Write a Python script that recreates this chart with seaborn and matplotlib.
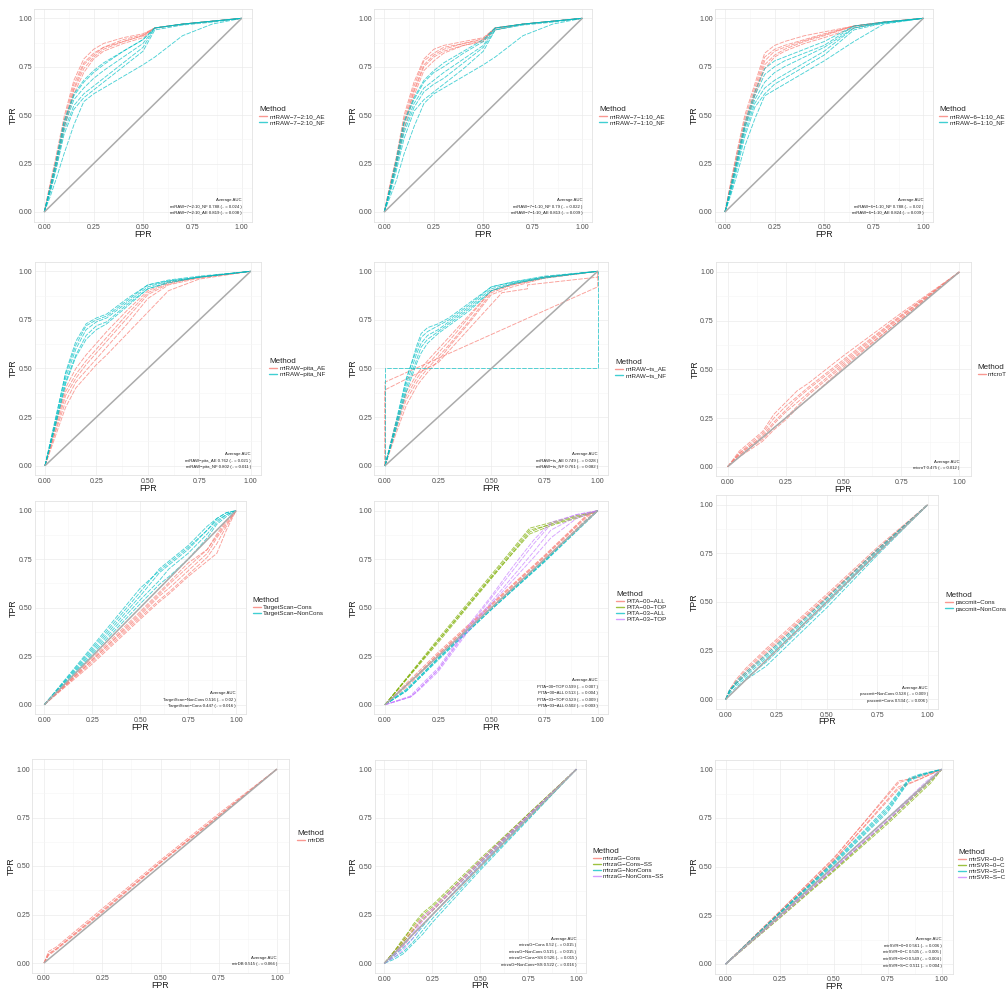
import matplotlib
matplotlib.use("Agg")
import matplotlib.pyplot as plt
from matplotlib.lines import Line2D
import seaborn as sns
import pandas as pd

sns.set_style("white")
plt.rcParams["font.family"] = ["Liberation Sans", "DejaVu Sans"]

# ---------------------------------------------------------------- data ----
DIAG = [0, 1]
TICKS = [0, 0.25, 0.5, 0.75, 1.0]
TICK_LABELS = ["0.00", "0.25", "0.50", "0.75", "1.00"]
MINOR_TICKS = [0.125, 0.375, 0.625, 0.875]

# miRAW-7-2:10
P1_METHODS = ["miRAW−7−2:10_AE", "miRAW−7−2:10_NF"]
P1_FPR = [0, .03, .06, .10, .15, .20, .25, .30, .40, .50, .56, .70, .85, 1]
P1_AE = [
    [0, .14, .27, .47, .66, .77, .82, .85, .88, .91, .95, .97, .985, 1],
    [0, .12, .25, .44, .63, .74, .80, .84, .88, .91, .95, .97, .985, 1],
    [0, .15, .29, .49, .68, .79, .84, .87, .90, .92, .95, .97, .985, 1],
    [0, .13, .26, .45, .64, .76, .81, .85, .89, .915, .95, .97, .985, 1],
    [0, .11, .24, .43, .61, .72, .79, .83, .87, .90, .95, .97, .985, 1],
]
P1_NF = [
    [0, .13, .26, .46, .60, .67, .72, .76, .83, .89, .95, .97, .985, 1],
    [0, .12, .25, .44, .58, .64, .69, .73, .80, .87, .95, .97, .985, 1],
    [0, .13, .27, .47, .61, .68, .73, .77, .83, .89, .95, .97, .985, 1],
    [0, .11, .23, .42, .55, .61, .65, .69, .77, .85, .95, .97, .985, 1],
    [0, .10, .22, .40, .53, .59, .63, .67, .75, .83, .94, .965, .98, 1],
    [0, .08, .17, .30, .45, .57, .61, .64, .70, .76, .80, .91, .97, 1],
]
P1_AUC = ["miRAW−7−2:10_NF 0.788 (.. = 0.024 )",
          "miRAW−7−2:10_AE 0.819 (.. = 0.008 )"]

# miRAW-7-1:10
P2_METHODS = ["miRAW−7−1:10_AE", "miRAW−7−1:10_NF"]
P2_FPR = [0, .03, .06, .10, .15, .20, .25, .30, .40, .50, .56, .70, .85, 1]
P2_AE = [
    [0, .14, .27, .48, .65, .78, .82, .85, .87, .89, .95, .97, .985, 1],
    [0, .12, .25, .45, .62, .75, .80, .83, .86, .885, .95, .97, .985, 1],
    [0, .15, .28, .50, .67, .79, .84, .86, .88, .90, .95, .97, .985, 1],
    [0, .13, .26, .46, .63, .76, .81, .84, .87, .895, .95, .97, .985, 1],
    [0, .11, .24, .43, .60, .73, .78, .82, .86, .88, .94, .97, .985, 1],
]
P2_NF = [
    [0, .13, .26, .46, .58, .67, .72, .75, .82, .88, .95, .97, .985, 1],
    [0, .12, .24, .43, .56, .64, .68, .72, .79, .86, .95, .97, .985, 1],
    [0, .13, .27, .47, .59, .68, .73, .77, .83, .89, .95, .97, .985, 1],
    [0, .11, .23, .41, .54, .62, .66, .69, .77, .85, .94, .97, .985, 1],
    [0, .10, .21, .38, .52, .58, .62, .66, .74, .83, .94, .965, .98, 1],
    [0, .08, .16, .30, .44, .56, .61, .64, .70, .76, .80, .91, .97, 1],
]
P2_AUC = ["miRAW−7−1:10_NF 0.79 (.. = 0.022 )",
          "miRAW−7−1:10_AE 0.813 (.. = 0.009 )"]

# miRAW-6-1:10
P3_METHODS = ["miRAW−6−1:10_AE", "miRAW−6−1:10_NF"]
P3_FPR = [0, .03, .06, .10, .15, .20, .25, .30, .40, .50, .65, .80, 1]
P3_AE = [
    [0, .15, .30, .48, .64, .80, .84, .86, .89, .92, .96, .98, 1],
    [0, .13, .27, .45, .61, .76, .81, .84, .88, .91, .96, .98, 1],
    [0, .16, .31, .50, .66, .82, .86, .88, .91, .93, .96, .98, 1],
    [0, .14, .28, .46, .62, .78, .83, .85, .885, .915, .96, .98, 1],
    [0, .12, .26, .44, .60, .74, .80, .83, .87, .90, .95, .98, 1],
]
P3_NF = [
    [0, .14, .28, .46, .62, .74, .78, .80, .84, .88, .96, .98, 1],
    [0, .13, .26, .44, .60, .71, .75, .78, .82, .86, .96, .98, 1],
    [0, .12, .25, .43, .58, .67, .72, .75, .80, .85, .95, .98, 1],
    [0, .11, .24, .41, .56, .64, .68, .71, .77, .83, .95, .975, 1],
    [0, .10, .22, .39, .54, .61, .66, .69, .75, .81, .94, .975, 1],
    [0, .09, .19, .34, .48, .60, .63, .66, .72, .78, .88, .97, 1],
]
P3_AUC = ["miRAW−6−1:10_NF 0.788 (.. = 0.02 )",
          "miRAW−6−1:10_AE 0.824 (.. = 0.009 )"]

# miRAW-pita
P4_METHODS = ["miRAW−pita_AE", "miRAW−pita_NF"]
P4_FPR = [0, .05, .10, .15, .20, .25, .30, .40, .50, .60, .75, 1]
P4_AE = [
    [0, .20, .38, .47, .54, .60, .66, .78, .89, .94, .97, 1],
    [0, .18, .36, .45, .52, .58, .64, .76, .88, .935, .97, 1],
    [0, .21, .40, .50, .57, .63, .69, .80, .90, .945, .97, 1],
    [0, .17, .33, .43, .49, .55, .61, .73, .86, .93, .965, 1],
    [0, .15, .30, .40, .46, .52, .57, .68, .79, .90, .96, 1],
]
P4_NF = [
    [0, .24, .47, .62, .72, .75, .77, .85, .93, .95, .97, 1],
    [0, .22, .45, .60, .70, .74, .76, .84, .92, .95, .97, 1],
    [0, .23, .48, .64, .73, .76, .78, .86, .93, .955, .975, 1],
    [0, .21, .43, .57, .67, .72, .74, .83, .91, .945, .97, 1],
    [0, .20, .42, .56, .65, .70, .73, .82, .91, .94, .97, 1],
]
P4_AUC = ["miRAW−pita_AE 0.762 (.. = 0.021 )",
          "miRAW−pita_NF 0.802 (.. = 0.011 )"]

# miRAW-ts
P5_METHODS = ["miRAW−ts_AE", "miRAW−ts_NF"]
P5_FPR = [0, .05, .10, .15, .17, .20, .25, .30, .40, .50, .60, .75, 1]
P5_AE = [
    [0, .20, .36, .45, .48, .52, .58, .64, .77, .90, .93, .97, 1],
    [0, .18, .34, .43, .46, .50, .56, .62, .75, .89, .93, .965, 1],
    [0, .22, .38, .47, .50, .54, .60, .66, .78, .90, .935, .97, 1],
    [0, .16, .31, .41, .44, .48, .54, .61, .74, .88, .92, .965, 1],
]
P5_AE_ODD_A_FPR = [0, 0, 1, 1]
P5_AE_ODD_A_TPR = [0, .43, .92, 1]
P5_AE_ODD_B_FPR = [0, 0, .25, .55, .67, .67, 1, 1]
P5_AE_ODD_B_TPR = [0, .39, .53, .89, .91, .93, .97, 1]
P5_NF = [
    [0, .22, .45, .60, .66, .69, .72, .75, .83, .92, .945, .97, 1],
    [0, .20, .42, .58, .63, .67, .70, .74, .82, .91, .94, .97, 1],
    [0, .21, .44, .62, .68, .71, .73, .76, .84, .92, .945, .975, 1],
    [0, .19, .40, .55, .61, .65, .69, .73, .81, .90, .935, .97, 1],
    [0, .18, .38, .53, .58, .63, .68, .72, .80, .90, .935, .965, 1],
]
P5_NF_ODD_FPR = [0, 0, 1, 1]
P5_NF_ODD_TPR = [0, .5, .5, 1]
P5_AUC = ["miRAW−ts_AE 0.749 (.. = 0.028 )",
          "miRAW−ts_NF 0.761 (.. = 0.082 )"]

# microT
P6_METHODS = ["microT"]
P6_FPR = [0, .05, .10, .15, .20, .25, .30, .35, .50, .75, 1]
P6_MT = [
    [0, .07, .12, .17, .25, .31, .36, .41, .55, .78, 1],
    [0, .06, .11, .15, .22, .28, .33, .38, .53, .77, 1],
    [0, .08, .13, .18, .27, .33, .39, .43, .57, .79, 1],
    [0, .06, .10, .14, .20, .25, .31, .37, .52, .76, 1],
    [0, .07, .11, .16, .23, .29, .35, .40, .54, .775, 1],
    [0, .05, .09, .13, .19, .24, .30, .35, .51, .76, 1],
]
P6_AUC = ["microT 0.475 (.. = 0.012 )"]

# TargetScan
P7_METHODS = ["TargetScan−Cons", "TargetScan−NonCons"]
P7_FPR = [0, .25, .50, .60, .65, .75, .85, .90, .95, 1]
P7_C = [
    [0, .22, .45, .54, .58, .67, .76, .83, .92, 1],
    [0, .23, .46, .56, .60, .69, .78, .86, .93, 1],
    [0, .24, .48, .58, .63, .73, .80, .88, .95, 1],
    [0, .21, .44, .53, .57, .66, .74, .78, .90, 1],
    [0, .23, .47, .57, .62, .71, .80, .87, .94, 1],
]
P7_NC = [
    [0, .28, .56, .68, .72, .80, .90, .95, .98, 1],
    [0, .27, .54, .64, .70, .78, .88, .94, .98, 1],
    [0, .29, .58, .70, .74, .82, .92, .96, .99, 1],
    [0, .26, .52, .62, .66, .75, .86, .93, .97, 1],
    [0, .30, .60, .69, .73, .81, .90, .96, .99, 1],
]
P7_AUC = ["TargetScan−NonCons 0.516 (.. = 0.02 )",
          "TargetScan−Cons 0.447 (.. = 0.016 )"]

# PITA
P8_METHODS = ["PITA−00−ALL", "PITA−00−TOP", "PITA−03−ALL", "PITA−03−TOP"]
P8_ALL_FPR = [0, .10, .25, .50, .75, .95, 1]
P8_00ALL = [
    [0, .10, .26, .51, .76, .97, 1],
    [0, .11, .27, .52, .77, .98, 1],
    [0, .09, .25, .50, .75, .96, 1],
    [0, .10, .26, .515, .765, .975, 1],
]
P8_00TOP_FPR = [0, .25, .50, .68, .75, .80, .90, 1]
P8_00TOP = [
    [0, .33, .66, .90, .92, .94, .97, 1],
    [0, .32, .65, .89, .92, .935, .965, 1],
    [0, .34, .67, .91, .93, .945, .975, 1],
    [0, .33, .655, .88, .91, .93, .96, 1],
]
P8_03ALL = [
    [0, .07, .23, .49, .74, .95, 1],
    [0, .08, .24, .50, .745, .955, 1],
    [0, .07, .235, .49, .735, .945, 1],
    [0, .075, .24, .495, .74, .95, 1],
]
P8_03TOP_FPR = [0, .12, .15, .25, .40, .50, .60, .70, .78, .90, 1]
P8_03TOP = [
    [0, .04, .07, .18, .41, .55, .69, .83, .93, .98, 1],
    [0, .04, .07, .18, .40, .53, .66, .79, .90, .97, 1],
    [0, .045, .08, .19, .42, .56, .71, .85, .94, .98, 1],
    [0, .04, .065, .17, .39, .52, .64, .76, .86, .96, 1],
]
P8_AUC = ["PITA−00−TOP 0.599 (.. = 0.007 )",
          "PITA−00−ALL 0.513 (.. = 0.004 )",
          "PITA−03−TOP 0.529 (.. = 0.009 )",
          "PITA−03−ALL 0.502 (.. = 0.003 )"]

# paccmit
P9_METHODS = ["paccmit−Cons", "paccmit−NonCons"]
P9_FPR = [0, .02, .05, .10, .20, .50, .75, 1]
P9_C = [
    [0, .05, .09, .15, .25, .53, .77, 1],
    [0, .04, .08, .13, .23, .52, .765, 1],
    [0, .05, .10, .16, .26, .54, .78, 1],
    [0, .04, .08, .14, .24, .525, .77, 1],
]
P9_NC = [
    [0, .04, .08, .13, .22, .51, .76, 1],
    [0, .05, .07, .11, .19, .49, .75, 1],
    [0, .04, .09, .14, .23, .52, .77, 1],
    [0, .03, .06, .10, .17, .47, .74, 1],
    [0, .05, .08, .12, .21, .50, .755, 1],
]
P9_AUC = ["paccmit−NonCons 0.528 (.. = 0.009 )",
          "paccmit−Cons 0.534 (.. = 0.006 )"]

# mirDB
P10_METHODS = ["mirDB"]
P10_FPR = [0, .02, .05, .25, .50, .75, 1]
P10_DB = [
    [0, .05, .07, .27, .52, .76, 1],
    [0, .04, .065, .26, .515, .755, 1],
    [0, .06, .08, .28, .53, .77, 1],
    [0, .045, .07, .265, .52, .76, 1],
]
P10_AUC = ["mirDB 0.515 (.. = 0.066 )"]

# mirzaG
P11_METHODS = ["mirzaG−Cons", "mirzaG−Cons−SS", "mirzaG−NonCons", "mirzaG−NonCons−SS"]
P11_FPR = [0, .05, .10, .15, .20, .25, .50, .75, 1]
P11_C = [
    [0, .05, .11, .17, .22, .27, .52, .76, 1],
    [0, .04, .09, .15, .20, .25, .50, .75, 1],
    [0, .06, .12, .18, .24, .28, .53, .765, 1],
]
P11_CSS = [
    [0, .06, .13, .19, .25, .29, .53, .77, 1],
    [0, .05, .11, .17, .23, .27, .52, .76, 1],
    [0, .06, .12, .20, .26, .30, .54, .77, 1],
]
P11_NC = [
    [0, .03, .06, .11, .17, .23, .49, .745, 1],
    [0, .02, .05, .10, .15, .21, .48, .74, 1],
    [0, .04, .08, .13, .19, .25, .51, .755, 1],
]
P11_NCSS = [
    [0, .04, .09, .15, .22, .27, .52, .76, 1],
    [0, .03, .07, .13, .20, .25, .51, .755, 1],
    [0, .05, .10, .16, .24, .28, .53, .765, 1],
]
P11_AUC = ["mirzaG−Cons 0.52 (.. = 0.015 )",
           "mirzaG−NonCons 0.515 (.. = 0.015 )",
           "mirzaG−Cons−SS 0.526 (.. = 0.015 )",
           "mirzaG−NonCons−SS 0.522 (.. = 0.016 )"]

# mirSVR
P12_METHODS = ["mirSVR−0−0", "mirSVR−0−C", "mirSVR−S−0", "mirSVR−S−C"]
P12_00_FPR = [0, .25, .50, .80, .90, 1]
P12_00 = [
    [0, .27, .54, .94, .96, 1],
    [0, .26, .53, .91, .95, 1],
    [0, .27, .545, .93, .97, 1],
    [0, .265, .53, .90, .95, 1],
]
P12_C_FPR = [0, .25, .50, .75, .95, 1]
P12_0C = [
    [0, .24, .48, .73, .94, 1],
    [0, .235, .475, .72, .93, 1],
    [0, .245, .485, .735, .945, 1],
]
P12_S0_FPR = [0, .25, .50, .75, .85, .90, 1]
P12_S0 = [
    [0, .26, .52, .80, .95, .97, 1],
    [0, .255, .51, .78, .94, .965, 1],
    [0, .265, .525, .81, .955, .975, 1],
    [0, .26, .515, .79, .945, .97, 1],
]
P12_SC = [
    [0, .245, .49, .74, .95, 1],
    [0, .25, .495, .75, .96, 1],
    [0, .24, .485, .735, .945, 1],
]
P12_AUC = ["mirSVR−0−0 0.561 (.. = 0.006 )",
           "mirSVR−0−C 0.505 (.. = 0.005 )",
           "mirSVR−S−0 0.549 (.. = 0.004 )",
           "mirSVR−S−C 0.511 (.. = 0.004 )"]


def on_grid(fpr, tpr_folds):
    return [(fpr, t) for t in tpr_folds]


PANELS = [
    (P1_METHODS, [on_grid(P1_FPR, P1_AE), on_grid(P1_FPR, P1_NF)], P1_AUC),
    (P2_METHODS, [on_grid(P2_FPR, P2_AE), on_grid(P2_FPR, P2_NF)], P2_AUC),
    (P3_METHODS, [on_grid(P3_FPR, P3_AE), on_grid(P3_FPR, P3_NF)], P3_AUC),
    (P4_METHODS, [on_grid(P4_FPR, P4_AE), on_grid(P4_FPR, P4_NF)], P4_AUC),
    (P5_METHODS,
     [on_grid(P5_FPR, P5_AE) + [(P5_AE_ODD_A_FPR, P5_AE_ODD_A_TPR),
                                (P5_AE_ODD_B_FPR, P5_AE_ODD_B_TPR)],
      on_grid(P5_FPR, P5_NF) + [(P5_NF_ODD_FPR, P5_NF_ODD_TPR)]], P5_AUC),
    (P6_METHODS, [on_grid(P6_FPR, P6_MT)], P6_AUC),
    (P7_METHODS, [on_grid(P7_FPR, P7_C), on_grid(P7_FPR, P7_NC)], P7_AUC),
    (P8_METHODS, [on_grid(P8_ALL_FPR, P8_00ALL), on_grid(P8_00TOP_FPR, P8_00TOP),
                  on_grid(P8_ALL_FPR, P8_03ALL), on_grid(P8_03TOP_FPR, P8_03TOP)], P8_AUC),
    (P9_METHODS, [on_grid(P9_FPR, P9_C), on_grid(P9_FPR, P9_NC)], P9_AUC),
    (P10_METHODS, [on_grid(P10_FPR, P10_DB)], P10_AUC),
    (P11_METHODS, [on_grid(P11_FPR, P11_C), on_grid(P11_FPR, P11_CSS),
                   on_grid(P11_FPR, P11_NC), on_grid(P11_FPR, P11_NCSS)], P11_AUC),
    (P12_METHODS, [on_grid(P12_00_FPR, P12_00), on_grid(P12_C_FPR, P12_0C),
                   on_grid(P12_S0_FPR, P12_S0), on_grid(P12_C_FPR, P12_SC)], P12_AUC),
]

HUES = {
    1: ["#F8766D"],
    2: ["#F8766D", "#00BFC4"],
    4: ["#F8766D", "#7CAE00", "#00BFC4", "#C77CFF"],
}

# --------------------------------------------------------------- layout ---
W, H = 1007, 990
# pixel position of data 0 and 1 on each panel: x0, x1, y(1.0), y(0.0)
GEOM = [
    (44.3, 241.7, 18.3, 212.0), (384.3, 582.3, 18.3, 212.0), (725.0, 923.3, 18.3, 212.0),
    (45.0, 250.7, 271.3, 465.7), (385.0, 597.7, 271.3, 465.7), (727.7, 959.3, 272.0, 466.7),
    (44.3, 236.0, 510.7, 704.7), (385.0, 597.7, 510.7, 704.7), (725.7, 927.7, 504.7, 699.3),
    (44.0, 277.0, 769.0, 963.0), (384.3, 576.3, 769.3, 963.3), (725.7, 941.7, 769.3, 964.0),
]
# legend title left edge and vertical centre
LEGEND_AT = [
    (259.0, 108.0), (599.3, 108.0), (939.0, 108.0),
    (269.0, 360.0), (615.0, 360.7), (977.7, 365.7),
    (252.7, 599.0), (616.0, 592.7), (945.0, 594.3),
    (297.0, 832.0), (592.7, 850.0), (958.3, 850.7),
]

fig = plt.figure(figsize=(W / 100, H / 100), dpi=100)
fig.patch.set_facecolor("white")

for idx, (methods, curves, auc_lines) in enumerate(PANELS):
    x0, x1, ytop, ybot = GEOM[idx]
    w, h = x1 - x0, ybot - ytop
    ax = fig.add_axes([(x0 - 0.05 * w) / W, 1 - (ybot + 0.05 * h) / H,
                       1.1 * w / W, 1.1 * h / H])

    rows = []
    for m, folds in zip(methods, curves):
        for k, (fx, ty) in enumerate(folds):
            for a, b in zip(fx, ty):
                rows.append({"Method": m, "Fold": f"{m}#{k}", "FPR": a, "TPR": b})
    df = pd.DataFrame(rows)
    pal = dict(zip(methods, HUES[len(methods)]))

    sns.lineplot(data=df, x="FPR", y="TPR", hue="Method", hue_order=methods,
                 units="Fold", estimator=None, sort=False, palette=pal,
                 lw=0.65, alpha=0.7, linestyle=(0, (5, 1.5)), legend=False, ax=ax)
    ax.plot(DIAG, DIAG, color="#ABABAB", lw=1.1, zorder=3, solid_capstyle="butt")

    ax.set_xlim(-0.05, 1.05)
    ax.set_ylim(-0.05, 1.05)
    ax.set_xticks(TICKS)
    ax.set_xticklabels(TICK_LABELS)
    ax.set_yticks(TICKS)
    ax.set_yticklabels(TICK_LABELS)
    ax.set_xticks(MINOR_TICKS, minor=True)
    ax.set_yticks(MINOR_TICKS, minor=True)
    ax.grid(which="major", color="#EBEBEB", lw=0.5)
    ax.grid(which="minor", color="#F5F5F5", lw=0.4)
    ax.set_axisbelow(True)
    ax.tick_params(which="both", length=0, labelsize=5.0, labelcolor="#4D4D4D")
    ax.tick_params(axis="x", pad=1.9)
    ax.tick_params(axis="y", pad=1.65)
    for s in ax.spines.values():
        s.set_color("#E3E3E3")
        s.set_linewidth(0.6)
    ax.set_xlabel("FPR", fontsize=6.3, labelpad=-0.9, color="#1A1A1A")
    ax.set_ylabel("TPR", fontsize=6.3, labelpad=0.3, color="#1A1A1A")

    ax.text(1.0, -0.018, "\n".join(["Average AUC"] + auc_lines),
            ha="right", va="bottom", ma="right", fontsize=3.1,
            linespacing=1.85, color="#222222")

    lx, ly = LEGEND_AT[idx]
    handles = [Line2D([], [], color=pal[m], lw=1.0, alpha=0.75) for m in methods]
    ax.legend(handles, methods, title="Method", loc="upper left",
              bbox_to_anchor=(lx / W, 1 - (ly - 2.0) / H),
              bbox_transform=fig.transFigure, frameon=False,
              fontsize=4.5, title_fontsize=5.8, handlelength=1.3,
              handletextpad=0.35, labelspacing=0.12, borderpad=0,
              borderaxespad=0, alignment="left")

fig.savefig("out.png", dpi=100, facecolor="white")
